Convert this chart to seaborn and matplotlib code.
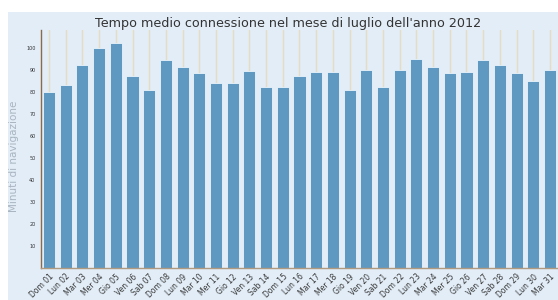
import matplotlib
matplotlib.use('Agg')
import matplotlib.pyplot as plt
import seaborn as sns
import pandas as pd
from matplotlib.patches import Rectangle

# data
giorni = ['Dom 01', 'Lun 02', 'Mar 03', 'Mer 04', 'Gio 05', 'Ven 06', 'Sab 07',
          'Dom 08', 'Lun 09', 'Mar 10', 'Mer 11', 'Gio 12', 'Ven 13', 'Sab 14',
          'Dom 15', 'Lun 16', 'Mar 17', 'Mer 18', 'Gio 19', 'Ven 20', 'Sab 21',
          'Dom 22', 'Lun 23', 'Mar 24', 'Mer 25', 'Gio 26', 'Ven 27', 'Sab 28',
          'Dom 29', 'Lun 30', 'Mar 31']
minuti = [80, 83, 92, 100, 102, 87, 81, 94.5, 91, 88.5, 84, 84, 89.5, 82,
          82, 87, 89, 89, 81, 90, 82, 90, 95, 91, 88.5, 89, 94.5, 92, 88.5, 85, 90]
y_ticks = [10, 20, 30, 40, 50, 60, 70, 80, 90, 100]

df = pd.DataFrame({'Giorno': giorni, 'Minuti': minuti})

sns.set_style('white')
fig = plt.figure(figsize=(5.58, 3.0), dpi=100)
fig.patch.set_facecolor('white')
# light blue panel behind everything
fig.patches.append(Rectangle((8 / 558, 0), 1 - 8 / 558, 1 - 12 / 300,
                             transform=fig.transFigure, facecolor='#e2edf7',
                             edgecolor='none', zorder=-10))

ax = fig.add_axes([41 / 558, 32 / 300, 1 - 41 / 558, 238 / 300])
ax.set_zorder(1)
ax.set_facecolor('#e2edf7')
ax.set_axisbelow(True)

sns.barplot(data=df, x='Giorno', y='Minuti', color='#5f98c0', saturation=1,
            width=0.72, edgecolor='#eaf5fd', linewidth=0.6, ax=ax)

# faint vertical guides behind the bars
ax.xaxis.grid(True, color='#e6dcc2', linewidth=1.0)
ax.yaxis.grid(False)

ax.set_xlim(-0.48, 30.48)
ax.set_ylim(0, 108)
ax.set_yticks(y_ticks)
ax.set_yticklabels([str(v) for v in y_ticks], fontsize=3.5, color='#333333')
ax.tick_params(axis='x', labelsize=5.5, rotation=45, length=2, width=0.6,
               color='#8a6c4c', pad=1, labelcolor='#3a3a3a')
ax.tick_params(axis='y', length=2, width=0.6, color='#8a6c4c', pad=2)
for lab in ax.get_xticklabels():
    lab.set_ha('right')
    lab.set_rotation_mode('anchor')

for side in ['top', 'right']:
    ax.spines[side].set_visible(False)
ax.spines['left'].set_color('#8a6c4c')
ax.spines['bottom'].set_color('#b09a80')
ax.spines['left'].set_linewidth(1.0)
ax.spines['bottom'].set_linewidth(1.0)

ax.set_xlabel('')
ax.set_ylabel('Minuti di navigazione', fontsize=7.5, color='#a8b4c0')
ax.yaxis.set_label_coords(-0.043, 0.47)
fig.text(0.516, 1 - 23 / 300, "Tempo medio connessione nel mese di luglio dell'anno 2012",
         ha='center', va='center', fontsize=9.2, color='#333333')

fig.savefig('out.png', dpi=100, facecolor='white')
